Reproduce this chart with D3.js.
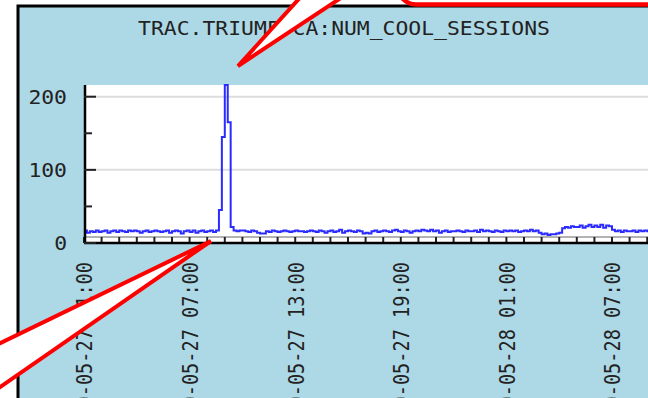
<!DOCTYPE html>
<html>
<head>
<meta charset="utf-8">
<script src="https://cdn.jsdelivr.net/npm/d3@7"></script>
<style>
  html, body { margin: 0; padding: 0; background: #fff; }
  svg { display: block; }
  text { font-family: 'DejaVu Sans Mono', monospace; fill: #222; }
</style>
</head>
<body>
<svg id="chart" width="648" height="398"></svg>
<script>
// Chart data
var title = 'TRAC.TRIUMF.CA:NUM_COOL_SESSIONS'
var startTime = '2009-05-27 01:00'
var endTime = '2009-05-28 10:00'
var stepMinutes = 10
var yTicks = [0, 100, 200]
var yMinorTicks = [50, 150]
var xLabels = [
  '2009-05-27 01:00', '2009-05-27 07:00', '2009-05-27 13:00',
  '2009-05-27 19:00', '2009-05-28 01:00', '2009-05-28 07:00'
]

// One value every 10 minutes, one row per hour
var sessions = [
  17, 14, 16, 15, 17, 15,   // 05-27 01:00
  16, 17, 14, 16, 17, 15,
  17, 16, 15, 17, 16, 17,
  16, 14, 16, 17, 15, 16,
  17, 16, 15, 16, 17, 14,   // 05:00
  16, 17, 16, 13, 16, 17,
  15, 17, 14, 16, 17, 15,   // 07:00
  16, 17, 15, 17, 45, 145,
  216, 165, 22, 17, 16, 17, // 09:00
  17, 16, 15, 17, 16, 14,
  13, 13, 16, 15, 17, 16,
  15, 16, 17, 16, 15, 16,
  17, 16, 16, 15, 16, 17,   // 13:00
  16, 15, 17, 16, 14, 16,
  17, 15, 16, 18, 14, 16,
  17, 16, 15, 17, 16, 13,
  14, 13, 16, 17, 15, 16,
  17, 16, 15, 17, 18, 16,
  15, 17, 16, 14, 16, 17,   // 19:00
  16, 18, 17, 16, 18, 16,
  17, 14, 16, 17, 15, 16,
  16, 17, 16, 15, 17, 16,
  16, 17, 15, 18, 16, 17,
  16, 15, 17, 16, 15, 17,   // 05-28 00:00
  16, 17, 16, 17, 15, 16,
  17, 16, 18, 16, 17, 14,
  12, 13, 11, 12, 12, 13,   // 03:00
  14, 20, 22, 21, 23, 22,
  22, 24, 21, 23, 25, 22,
  24, 22, 25, 21, 24, 23,
  18, 16, 17, 15, 17, 16,   // 07:00
  16, 17, 15, 17, 16, 17,
  16, 17, 15, 16, 17, 16
]

var parse = d3.timeParse('%Y-%m-%d %H:%M')
var fmt = d3.timeFormat('%Y-%m-%d %H:%M')
var t0 = parse(startTime)
var data = sessions.map(function(v, i) {
  return {x: d3.timeMinute.offset(t0, i * stepMinutes), y: v}
})

var svg = d3.select('#chart')

// Frame: light blue panel with black top/left border
svg.append('rect')
  .attr('x', 18).attr('y', 6)
  .attr('width', 700).attr('height', 500)
  .attr('fill', '#add8e6')
  .attr('stroke', '#000')
  .attr('stroke-width', 3)

// Plot area
var pLeft = 84, pTop = 85, pBottom = 243, pRight = 700
var x = d3.scaleTime()
  .domain([t0, parse(endTime)])
  .range([pLeft, pLeft + 33 * 17.6])
var y = d3.scaleLinear()
  .domain([0, 216])
  .range([pBottom, pTop])

svg.append('rect')
  .attr('x', pLeft).attr('y', pTop)
  .attr('width', pRight - pLeft).attr('height', pBottom - pTop)
  .attr('fill', '#fff')

// Grid lines
svg.append('g').selectAll('line')
  .data(yTicks.slice(1))
  .join('line')
  .attr('x1', pLeft).attr('x2', pRight)
  .attr('y1', d => y(d)).attr('y2', d => y(d))
  .attr('stroke', '#ddd')
  .attr('stroke-width', 2)

// Series line
var line = d3.line()
  .x(d => x(d.x))
  .y(d => y(d.y))
  .curve(d3.curveStepAfter)

svg.append('path')
  .attr('d', line(data))
  .attr('fill', 'none')
  .attr('stroke', '#2b2bff')
  .attr('stroke-width', 2)

// x-axis: hourly ticks pointing up, ladder look
var hours = d3.timeHour.range(t0, parse(endTime))
var xa = svg.append('g')
xa.append('line')
  .attr('x1', pLeft).attr('x2', pRight)
  .attr('y1', pBottom - 6).attr('y2', pBottom - 6)
  .attr('stroke', '#666').attr('stroke-width', 1)
xa.selectAll('.tick')
  .data(hours)
  .join('line')
  .attr('class', 'tick')
  .attr('x1', d => x(d)).attr('x2', d => x(d))
  .attr('y1', pBottom - 6).attr('y2', pBottom)
  .attr('stroke', '#222').attr('stroke-width', 2)
xa.append('line')
  .attr('x1', pLeft).attr('x2', pRight)
  .attr('y1', pBottom).attr('y2', pBottom)
  .attr('stroke', '#000').attr('stroke-width', 2.5)

// x labels every 6 hours, rotated
svg.append('g').selectAll('text')
  .data(xLabels.map(parse))
  .join('text')
  .attr('transform', d => 'translate(' + (x(d) + 1) + ',262) scale(1.15,1) rotate(-90)')
  .attr('text-anchor', 'end')
  .attr('dominant-baseline', 'central')
  .style('font-size', '18.6px')
  .text(fmt)

// y-axis
var ya = svg.append('g')
ya.append('line')
  .attr('x1', pLeft + 1).attr('x2', pLeft + 1)
  .attr('y1', pTop).attr('y2', pBottom)
  .attr('stroke', '#000').attr('stroke-width', 2.5)
ya.selectAll('.major')
  .data(yTicks)
  .join('line')
  .attr('class', 'major')
  .attr('x1', pLeft).attr('x2', pLeft + 12)
  .attr('y1', d => y(d)).attr('y2', d => y(d))
  .attr('stroke', '#222').attr('stroke-width', 2)
ya.selectAll('.minor')
  .data(yMinorTicks)
  .join('line')
  .attr('class', 'minor')
  .attr('x1', pLeft).attr('x2', pLeft + 8)
  .attr('y1', d => y(d)).attr('y2', d => y(d))
  .attr('stroke', '#222').attr('stroke-width', 2)
ya.selectAll('text')
  .data(yTicks)
  .join('text')
  .attr('transform', d => 'translate(67,' + (y(d) + 1) + ') scale(1.15,1)')
  .attr('text-anchor', 'end')
  .attr('dominant-baseline', 'central')
  .style('font-size', '18.6px')
  .text(d => d)

// Title
svg.append('text')
  .attr('transform', 'translate(344,35) scale(1.15,1)')
  .attr('text-anchor', 'middle')
  .style('font-size', '18.6px')
  .text(title)

// Red callouts drawn over the chart
svg.append('rect')
  .attr('x', 398).attr('y', -40)
  .attr('width', 320).attr('height', 44.5)
  .attr('rx', 18)
  .attr('fill', '#fff')
  .attr('stroke', '#f00')
  .attr('stroke-width', 4.5)

svg.append('path')
  .attr('d', 'M238,66 L316,-20 L368,-20 Z')
  .attr('fill', '#fff')
  .attr('stroke', '#f00')
  .attr('stroke-width', 4)
  .attr('stroke-linejoin', 'miter')

svg.append('path')
  .attr('d', 'M211,241 L-20,353 L-20,401 Z')
  .attr('fill', '#fff')
  .attr('stroke', '#f00')
  .attr('stroke-width', 4)
  .attr('stroke-linejoin', 'miter')
</script>
</body>
</html>
